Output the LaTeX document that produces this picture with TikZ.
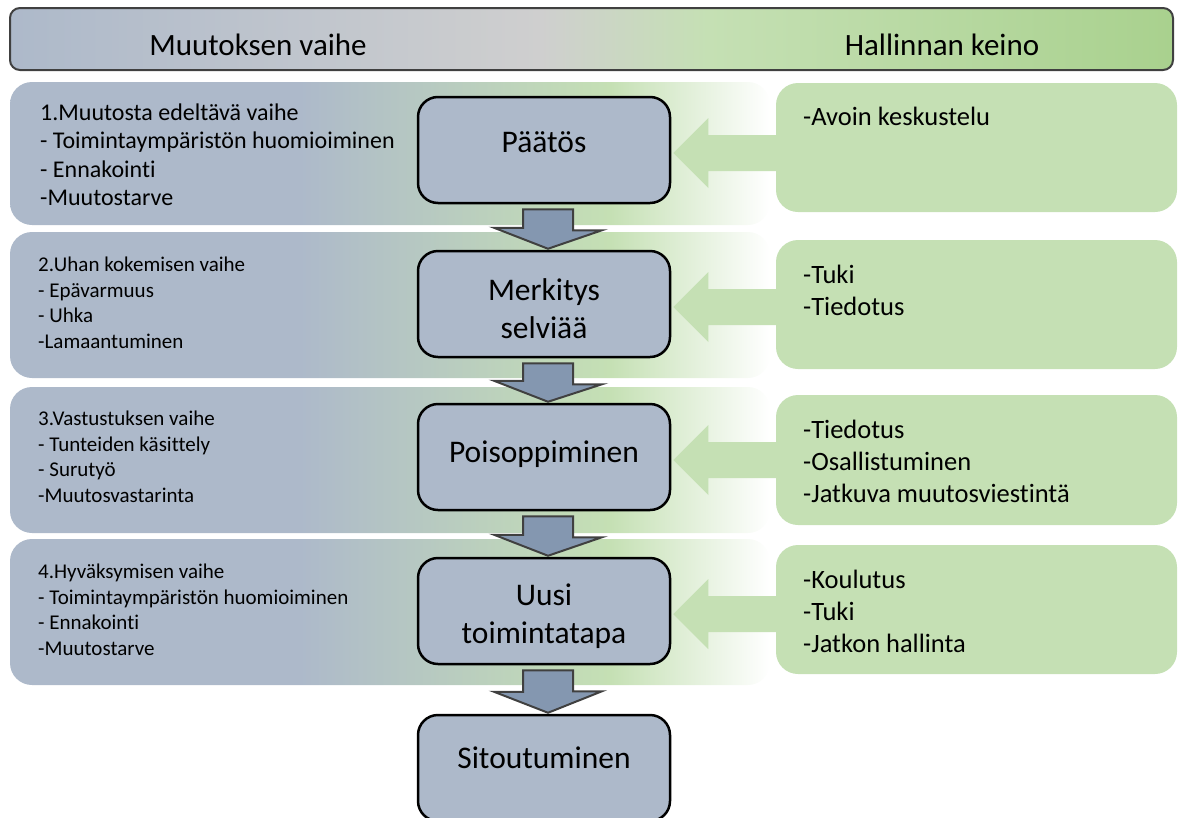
\documentclass[tikz,border=0pt]{standalone}
\usepackage{fontspec}
\setmainfont{Carlito}[Ligatures={NoCommon}]
\usetikzlibrary{calc}

\definecolor{slate}{HTML}{ADB9CA}
\definecolor{midgray}{HTML}{CFCFCF}
\definecolor{leaf}{HTML}{C5E0B4}
\definecolor{leafdark}{HTML}{A9D18E}
\definecolor{arrowblue}{HTML}{8497B0}
\definecolor{rim}{HTML}{404040}

% header: blue-grey -> grey -> green
\pgfdeclarehorizontalshading{headshade}{100bp}{color(0bp)=(slate); color(25bp)=(slate);
  color(47.8bp)=(midgray); color(55bp)=(leaf); color(75bp)=(leafdark); color(100bp)=(leafdark)}
% phase bands: blue-grey -> green -> white
\pgfdeclarehorizontalshading{bandshade}{100bp}{color(0bp)=(slate); color(25bp)=(slate);
  color(44bp)=(slate); color(64.5bp)=(leaf); color(75bp)=(white); color(100bp)=(white)}

\begin{document}
\begin{tikzpicture}[x=1pt,y=-1pt,
  stage/.style={draw=black, line width=2.5pt, fill=slate, rounded corners=20pt,
    minimum width=252pt, minimum height=106pt, inner sep=0pt},
  stagetext/.style={anchor=base, align=center, inner sep=0pt,
    font=\fontsize{31.5}{38}\selectfont},
  tool/.style={fill=leaf, rounded corners=22pt, minimum width=401pt, inner sep=0pt},
  tooltext/.style={anchor=base west, align=left, inner sep=0pt,
    font=\fontsize{26.5}{32}\selectfont},
  phase/.style={anchor=base west, align=left, inner sep=0pt,
    font=\fontsize{21}{25.5}\selectfont},
  headtext/.style={anchor=base, inner sep=0pt, font=\fontsize{31}{36}\selectfont},
  down/.style={fill=arrowblue, draw=rim, line width=2pt, line join=miter},
  push/.style={fill=leaf},
]
\useasboundingbox (0,0) rectangle (1182,817);

% header bar
\shadedraw[shading=headshade, draw=rim, line width=2pt, rounded corners=10pt]
  (10,8) rectangle (1173,70);
\node[headtext] (hl) at (258,55) {Muutoksen vaihe};
\node[headtext] (hr) at (942,55) {Hallinnan keino};

% phase bands
\shade[shading=bandshade, rounded corners=22pt] (10,82) rectangle (770,225);
\shade[shading=bandshade, rounded corners=22pt] (10,232) rectangle (770,378);
\shade[shading=bandshade, rounded corners=22pt] (10,387) rectangle (770,533);
\shade[shading=bandshade, rounded corners=22pt] (10,539) rectangle (770,685);

% stage boxes
\node[stage] (s1) at (544,150) {};
\node[stage] (s2) at (544,304) {};
\node[stage] (s3) at (544,457) {};
\node[stage] (s4) at (544,611) {};
\node[stage] (s5) at (544,768) {};

% block arrows between stages
\foreach \a/\b in {s1/s2, s2/s3, s3/s4, s4/s5}{
  \draw[down] ($(\a.south)+(-21,5)$) -- ++(50,0) -- ++(0,21) -- ++(29,0)
    -- ($(\b.north)+(4,-1)$) -- ++(-54,-21) -- ++(29,0) -- cycle;
}

% stage labels (base anchor = baseline of the last line)
\node[stagetext] (t1) at (544,152) {Päätös};
\node[stagetext] (t2) at (544,338) {Merkitys\\selviää};
\node[stagetext] (t3) at (544,462) {Poisoppiminen};
\node[stagetext] (t4) at (544,643) {Uusi\\toimintatapa};
\node[stagetext] (t5) at (544,768) {Sitoutuminen};

% management boxes and their arrows
\foreach \s in {1,2,3,4}{
  \fill[push] ($(s\s.east)+(2,3)$) -- ++(35,-35) -- ++(0,17) -- ++(83,0)
    -- ++(0,36) -- ++(-83,0) -- ++(0,17) -- cycle;
}
\node[tool, minimum height=129pt] (r1) at (976.5,147.5) {};
\node[tool, minimum height=129pt] (r2) at (976.5,304.5) {};
\node[tool, minimum height=130pt] (r3) at (976.5,460) {};
\node[tool, minimum height=129pt] (r4) at (976.5,609.5) {};

% phase descriptions
\node[phase, font=\fontsize{24}{28.5}\selectfont] (p1) at (40,205.5)
  {1.Muutosta edeltävä vaihe\\- Toimintaympäristön huomioiminen\\- Ennakointi\\-Muutostarve};
\node[phase] (p2) at (38,348)
  {2.Uhan kokemisen vaihe\\- Epävarmuus\\- Uhka\\-Lamaantuminen};
\node[phase] (p3) at (38,502)
  {3.Vastustuksen vaihe\\- Tunteiden käsittely\\- Surutyö\\-Muutosvastarinta};
\node[phase] (p4) at (38,655)
  {4.Hyväksymisen vaihe\\- Toimintaympäristön huomioiminen\\- Ennakointi\\-Muutostarve};

% management means
\node[tooltext] (m1) at (803,125) {-Avoin keskustelu};
\node[tooltext] (m2) at (803,315) {-Tuki\\-Tiedotus};
\node[tooltext] (m3) at (803,502) {-Tiedotus\\-Osallistuminen\\-Jatkuva muutosviestintä};
\node[tooltext] (m4) at (803,652) {-Koulutus\\-Tuki\\-Jatkon hallinta};
\end{tikzpicture}
\end{document}
